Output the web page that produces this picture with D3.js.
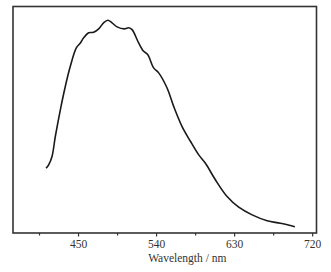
<!DOCTYPE html>
<html>
<head>
<meta charset="utf-8">
<script src="https://cdn.jsdelivr.net/npm/d3@7"></script>
<style>
  body { margin: 0; background: #fff; }
  svg { display: block; }
</style>
</head>
<body>
<div id="chart"></div>
<script>
// 波長 (nm) 與強度 (a.u.)
const wavelength = [413.1, 416.1, 420.0, 423.8, 429.6, 435.3, 441.1, 448.0, 452.7, 456.5,
    462.2, 468.0, 473.8, 479.5, 484.4, 489.2, 495.0, 503.4, 508.4, 512.3,
    519.9, 525.7, 530.3, 537.2, 543.0, 552.7, 560.3, 570.0, 579.6, 589.2,
    596.9, 608.4, 621.9, 635.3, 650.8, 668.1, 683.4, 700.1];
const intensity = [28.6, 30.1, 33.8, 42.6, 54.4, 64.7, 73.6, 81.7, 83.9, 86.2,
    88.4, 88.6, 90.1, 92.8, 93.9, 92.8, 91.0, 90.1, 90.6, 89.8,
    83.9, 80.2, 78.8, 72.9, 70.7, 64.0, 55.9, 47.0, 40.5, 34.5,
    30.8, 23.5, 16.1, 11.4, 8.0, 5.4, 4.3, 2.8];
const majorTicks = [450, 540, 630, 720];
const minorTicks = [405, 495, 585, 675];
const xTitle = "Wavelength / nm";

const data = wavelength.map((w, i) => ({w: w, v: intensity[i]}));

const W = 331, H = 272;
const margin = {top: 6.5, right: 14.5, bottom: 39, left: 13};
const width = W - margin.left - margin.right;
const height = H - margin.top - margin.bottom;

const svg = d3.select("#chart").append("svg")
    .attr("width", W)
    .attr("height", H);

const g = svg.append("g")
    .attr("transform", `translate(${margin.left},${margin.top})`);

// 比例尺
const x = d3.scaleLinear().domain([375, 725]).range([0, width]);
const y = d3.scaleLinear().domain([0, 100]).range([height, 0]);

// 次刻度
g.append("g")
    .attr("transform", `translate(0,${height})`)
    .call(d3.axisBottom(x).tickValues(minorTicks).tickSize(2.5).tickFormat(""))
    .call(a => a.select(".domain").remove())
    .selectAll("line").attr("stroke", "#333").attr("stroke-width", 1.2);

// 主刻度
const xAxis = g.append("g")
    .attr("transform", `translate(0,${height})`)
    .call(d3.axisBottom(x).tickValues(majorTicks).tickSize(3.5).tickPadding(3).tickFormat(d3.format("d")));
xAxis.select(".domain").remove();
xAxis.selectAll("line").attr("stroke", "#333").attr("stroke-width", 1.2);
xAxis.selectAll("text")
    .attr("fill", "#333")
    .style("font-family", "'Liberation Serif', 'Times New Roman', serif")
    .style("font-size", "11.5px");

// 外框
g.append("rect")
    .attr("x", 0).attr("y", 0)
    .attr("width", width).attr("height", height)
    .attr("fill", "none")
    .attr("stroke", "#333")
    .attr("stroke-width", 1.6);

// 曲線
const line = d3.line()
    .x(d => x(d.w))
    .y(d => y(d.v))
    .curve(d3.curveCatmullRom);

g.append("path")
    .datum(data)
    .attr("fill", "none")
    .attr("stroke", "#1a1a1a")
    .attr("stroke-width", 1.6)
    .attr("stroke-linejoin", "round")
    .attr("d", line);

// x 軸標題
g.append("text")
    .attr("x", x(576))
    .attr("y", height + 29)
    .attr("text-anchor", "middle")
    .attr("fill", "#333")
    .style("font-family", "'Liberation Serif', 'Times New Roman', serif")
    .style("font-size", "11.5px")
    .text(xTitle);
</script>
</body>
</html>
